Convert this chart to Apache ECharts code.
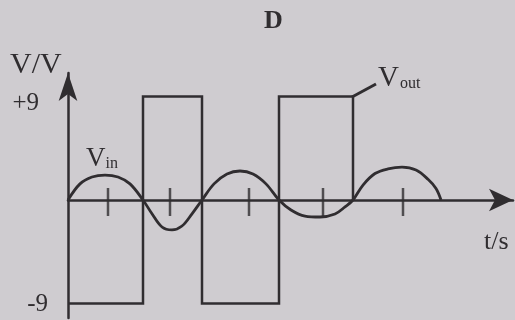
<!DOCTYPE html>
<html>
<head>
<meta charset="utf-8">
<script src="https://cdn.jsdelivr.net/npm/echarts@6/dist/echarts.min.js"></script>
<style>
  html, body { margin: 0; padding: 0; background: #cfccd0; }
  #chart { width: 515px; height: 320px; }
</style>
</head>
<body>
<div id="chart"></div>
<script>
// Input voltage V_in: read points [t, V] along each half-wave
const vinPoints = [
  [0, 0], [1.2, 1.4], [2.4, 2.0], [3.7, 2.17], [5.0, 2.0], [6.2, 1.4], [7.5, 0],
  [8.4, -1.2], [9.4, -2.35], [10.4, -2.6], [11.4, -2.26], [12.4, -1.2], [13.4, 0],
  [14.6, 1.4], [15.9, 2.26], [17.2, 2.52], [18.5, 2.26], [19.8, 1.4], [21.1, 0],
  [22.3, -0.87], [23.7, -1.4], [25.2, -1.48], [26.7, -1.22], [27.7, -0.6], [28.5, 0],
  [29.5, 1.3], [30.7, 2.3], [32.0, 2.7], [33.4, 2.85], [34.8, 2.6], [36.0, 1.8], [36.8, 1.0], [37.3, 0]
];

// Output voltage V_out: comparator swinging between -9 V and +9 V
const voutPoints = [
  [0, -9], [7.5, -9], [7.5, 9], [13.4, 9], [13.4, -9],
  [21.1, -9], [21.1, 9], [28.5, 9], [28.5, 0]
];

// Tick marks along the time axis
const tickTimes = [4.0, 10.2, 18.1, 25.5, 33.5];

// Labelled voltage levels on the vertical axis
const yTickValues = [9, -9];

const ink = '#302d30';
const serif = '"Liberation Serif", "DejaVu Serif", serif';

const chart = echarts.init(document.getElementById('chart'));

chart.setOption({
  backgroundColor: '#cfccd0',
  animation: false,
  grid: { left: 68, top: 73, width: 445, height: 245 },
  xAxis: {
    type: 'value',
    min: 0,
    max: 44.5,
    splitLine: { show: false },
    axisTick: { show: false },
    axisLabel: { show: false },
    axisLine: {
      onZero: true,
      lineStyle: { color: ink, width: 2.5 },
      symbol: ['none', 'arrow'],
      symbolSize: [17, 24]
    }
  },
  yAxis: {
    type: 'value',
    min: -10.26,
    max: 11.04,
    splitLine: { show: false },
    axisTick: { show: false },
    axisLine: {
      onZero: false,
      lineStyle: { color: ink, width: 2.5 },
      symbol: ['none', 'arrow'],
      symbolSize: [14, 28]
    },
    axisLabel: {
      customValues: yTickValues,
      margin: 20,
      fontFamily: serif,
      fontSize: 24,
      color: ink,
      formatter: v => v > 0 ? '{p|+' + v + '}' : '{m|' + v + '}',
      rich: {
        p: { fontFamily: serif, fontSize: 25, color: ink, padding: [14, 9, 0, 0] },
        m: { fontFamily: serif, fontSize: 25, color: ink, padding: [2, 0, 0, 0] }
      }
    }
  },
  series: [
    {
      name: 'Vout',
      type: 'line',
      data: voutPoints,
      symbol: 'none',
      clip: false,
      lineStyle: { color: ink, width: 2.5, join: 'miter' }
    },
    {
      name: 'Vin',
      type: 'line',
      data: vinPoints,
      smooth: 0.35,
      symbol: 'none',
      clip: false,
      lineStyle: { color: ink, width: 2.8 }
    },
    {
      name: 'ticks',
      type: 'scatter',
      data: tickTimes.map(t => [t, 0]),
      symbol: 'rect',
      symbolSize: [2.5, 28],
      symbolOffset: [0, 2],
      itemStyle: { color: ink }
    }
  ],
  graphic: [
    {
      type: 'text', left: 264, top: 8,
      style: { text: 'D', font: 'bold 26px ' + serif, fill: ink }
    },
    {
      type: 'text', left: 10, top: 50,
      style: { text: 'V/V', font: '30px ' + serif, fill: ink }
    },
    {
      type: 'text', left: 484, top: 229,
      style: { text: 't/s', font: '26px ' + serif, fill: ink }
    },
    {
      type: 'text', left: 86, top: 145,
      style: {
        text: 'V{s|in}',
        font: '27px ' + serif,
        fill: ink,
        rich: { s: { fontFamily: serif, fontSize: 16, fill: ink, padding: [11, 0, 0, 0] } }
      }
    },
    {
      type: 'text', left: 378, top: 64,
      style: {
        text: 'V{s|out}',
        font: '29px ' + serif,
        fill: ink,
        rich: { s: { fontFamily: serif, fontSize: 16, fill: ink, padding: [10, 0, 0, 1] } }
      }
    },
    {
      type: 'polyline',
      shape: { points: [[352, 97], [376, 84]] },
      style: { stroke: ink, lineWidth: 3 }
    }
  ]
});
</script>
</body>
</html>
